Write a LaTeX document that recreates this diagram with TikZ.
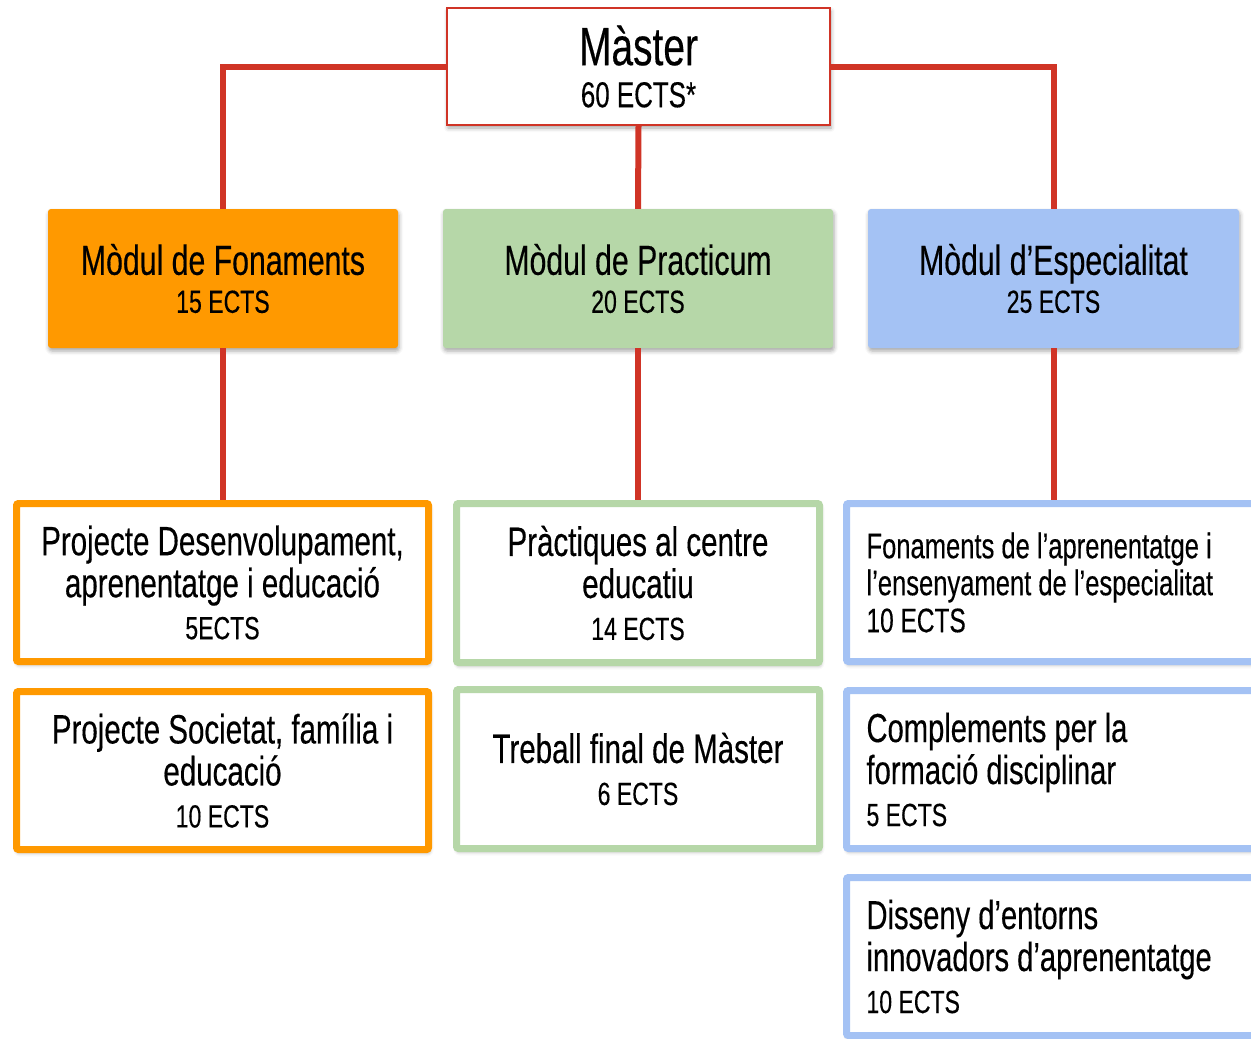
\documentclass[tikz,border=0pt]{standalone}
\usepackage{fontspec}
\setmainfont{Liberation Sans}[FakeStretch=0.72, FakeBold=0.3]
\usetikzlibrary{shadows.blur}
\definecolor{linered}{RGB}{208,52,38}
\definecolor{fonorange}{RGB}{255,153,0}
\definecolor{pracgreen}{RGB}{182,215,168}
\definecolor{espblue}{RGB}{164,194,244}
\newcommand{\bigsize}{\fontsize{41}{42}\selectfont}
\newcommand{\ectssize}{\fontsize{32}{38}\selectfont}
\tikzset{
	softshadow/.style={blur shadow={shadow xshift=1pt, shadow yshift=-3pt, shadow blur radius=4pt, shadow opacity=35}},
	module/.style={rectangle, rounded corners=3pt, minimum height=139pt, inner sep=0pt, align=center, softshadow, font=\fontsize{42}{38}\selectfont},
	leaf/.style={rectangle, draw=#1, line width=7pt, fill=white, rounded corners=2pt, minimum height=158pt, inner sep=0pt, align=center, softshadow, font=\bigsize},
	specleaf/.style={leaf=espblue, minimum width=420pt, text width=380pt, align=left},
	link/.style={draw=linered, line width=6pt}
}
\begin{document}
\begin{tikzpicture}[x=1pt, y=-1pt]

	\useasboundingbox (0,0) rectangle (1251,1039);
	\clip (0,0) rectangle (1251,1039);

	% --- master ---
	\node [rectangle, draw=linered, line width=2pt, fill=white, minimum width=383pt, minimum height=117pt, align=center, softshadow, font=\fontsize{54}{42}\selectfont] (master) at (638.5,66.5) {M\`aster\\{\fontsize{36}{40}\selectfont 60 ECTS*}};

	% --- modules ---
	\node [module, fill=fonorange, minimum width=350pt] (fonaments) at (223,278.5) {M\`odul de Fonaments\\{\ectssize 15 ECTS}};
	\node [module, fill=pracgreen, minimum width=390pt] (practicum) at (638,278.5) {M\`odul de Practicum\\{\ectssize 20 ECTS}};
	\node [module, fill=espblue, minimum width=371pt] (especialitat) at (1053.5,278.5) {M\`odul d’Especialitat\\{\ectssize 25 ECTS}};

	% --- subjects ---
	\node [leaf=fonorange, minimum width=412pt] (desenv) at (222.5,582.5) {Projecte Desenvolupament,\\aprenentatge i educaci\'o\\{\ectssize 5ECTS}};
	\node [leaf=fonorange, minimum width=412pt] (societat) at (222.5,770.5) {Projecte Societat, fam\'ilia i\\educaci\'o\\{\ectssize 10 ECTS}};

	\node [leaf=pracgreen, minimum width=363pt, minimum height=159pt] (practiques) at (638,583) {Pr\`actiques al centre\\educatiu\\{\ectssize 14 ECTS}};
	\node [leaf=pracgreen, minimum width=363pt, minimum height=159pt] (tfm) at (638,769) {Treball final de M\`aster\\{\ectssize 6 ECTS}};

	\node [specleaf, font=\fontsize{35.5}{37}\selectfont] (fonaprenent) at (1056.5,582.5) {\spaceskip=0pt Fonaments de l’aprenentatge i\\l’ensenyament de l’especialitat\\{\fontsize{34}{37}\selectfont 10 ECTS}};
	\node [specleaf, font=\fontsize{40.5}{42}\selectfont] (complements) at (1056.5,769.5) {\spaceskip=0pt Complements per la\\formaci\'o disciplinar\\{\fontsize{32}{37}\selectfont 5 ECTS}};
	\node [specleaf, font=\fontsize{40.5}{42}\selectfont] (disseny) at (1056.5,956.5) {\spaceskip=0pt Disseny d’entorns\\innovadors d’aprenentatge\\{\fontsize{32}{37}\selectfont 10 ECTS}};

	% links
	\draw [link] (master.west) -| (fonaments.north);
	\draw [link] (master.east) -| (especialitat.north);
	\draw [link] (master.south) -- (practicum.north);

	\draw [link] (fonaments.south) -- (fonaments.south |- desenv.north);
	\draw [link] (practicum.south) -- (practiques.north);
	\draw [link] (especialitat.south) -- (especialitat.south |- fonaprenent.north);

\end{tikzpicture}
\end{document}
